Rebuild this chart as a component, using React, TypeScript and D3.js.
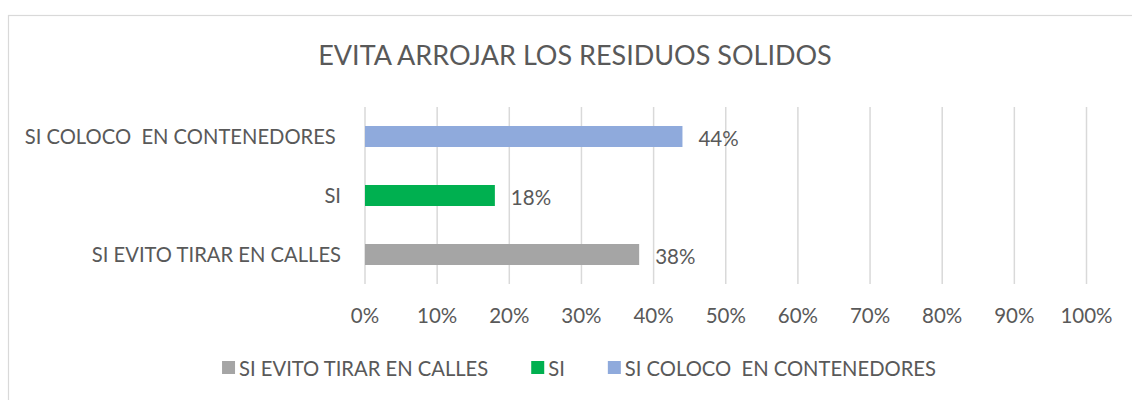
import { useEffect, useRef } from 'react';
import * as d3 from 'd3';

const title = 'EVITA ARROJAR LOS RESIDUOS SOLIDOS';
const categories = ['SI EVITO TIRAR EN CALLES', 'SI', 'SI COLOCO  EN CONTENEDORES '];
const values = [0.38, 0.18, 0.44];
const labels = ['38%', '18%', '44%'];
const colors = ['#a5a5a5', '#00b050', '#8faadc'];
const ticks = [0, 0.1, 0.2, 0.3, 0.4, 0.5, 0.6, 0.7, 0.8, 0.9, 1];

const W = 1132;
const H = 400;
const FONT = 'Lato, Carlito, "Open Sans", sans-serif';
const TEXT = '#595959';

export default function App() {
    const svgRef = useRef<SVGSVGElement>(null);

    useEffect(() => {
        if (!svgRef.current) return;
        const svg = d3.select(svgRef.current);
        svg.selectAll('*').remove();

        // chart frame
        svg.append('rect')
            .attr('x', 8.5)
            .attr('y', 15.5)
            .attr('width', W + 20)
            .attr('height', H + 20)
            .attr('fill', '#fff')
            .attr('stroke', '#d9d9d9')
            .attr('stroke-width', 1.2);

        const xScale = d3.scaleLinear().domain([0, 1]).range([365, 1086.5]);
        const yScale = d3.scaleBand()
            .domain([...categories].reverse())
            .range([107, 284])
            .paddingInner(0.644)
            .paddingOuter(0.322);

        // title
        svg.append('text')
            .attr('x', 575)
            .attr('y', 65)
            .attr('text-anchor', 'middle')
            .style('font-family', FONT)
            .style('font-size', '27px')
            .style('fill', TEXT)
            .text(title);

        // gridlines
        svg.append('g')
            .selectAll('line')
            .data(ticks)
            .join('line')
            .attr('x1', d => xScale(d))
            .attr('x2', d => xScale(d))
            .attr('y1', 107)
            .attr('y2', 284)
            .attr('stroke', '#d9d9d9')
            .attr('stroke-width', 1.5);

        // x tick labels
        svg.append('g')
            .selectAll('text')
            .data(ticks)
            .join('text')
            .attr('x', d => xScale(d))
            .attr('y', 322.5)
            .attr('text-anchor', 'middle')
            .style('font-family', FONT)
            .style('font-size', '20.5px')
            .style('fill', TEXT)
            .text(d => `${Math.round(d * 100)}%`);

        // category labels
        svg.append('g')
            .selectAll('text')
            .data(categories)
            .join('text')
            .attr('x', 341)
            .attr('y', d => (yScale(d) ?? 0) + yScale.bandwidth() / 2 + 7.3)
            .attr('text-anchor', 'end')
            .style('font-family', FONT)
            .style('font-size', '20.2px')
            .style('white-space', 'pre')
            .style('fill', TEXT)
            .text(d => d);

        // bars
        svg.append('g')
            .selectAll('rect')
            .data(categories)
            .join('rect')
            .attr('x', xScale(0))
            .attr('y', d => yScale(d) ?? 0)
            .attr('width', (d, i) => xScale(values[i]) - xScale(0))
            .attr('height', yScale.bandwidth())
            .attr('fill', (d, i) => colors[i]);

        // data labels
        svg.append('g')
            .selectAll('text')
            .data(categories)
            .join('text')
            .attr('x', (d, i) => xScale(values[i]) + 16)
            .attr('y', d => (yScale(d) ?? 0) + yScale.bandwidth() / 2 + 9)
            .style('font-family', FONT)
            .style('font-size', '20.5px')
            .style('fill', TEXT)
            .text((d, i) => labels[i]);

        // legend, centred under the chart
        const legend = svg.append('g');
        let cursor = 0;
        categories.forEach((cat, i) => {
            const item = legend.append('g').attr('transform', `translate(${cursor},0)`);
            item.append('rect')
                .attr('x', 0)
                .attr('y', 361)
                .attr('width', 13)
                .attr('height', 13)
                .attr('fill', colors[i]);
            const t = item.append('text')
                .attr('x', 17)
                .attr('y', 375.5)
                .style('font-family', FONT)
                .style('font-size', '20.2px')
                .style('white-space', 'pre')
                .style('fill', TEXT)
                .text(cat.trimEnd());
            const tw = (t.node() as SVGTextElement).getComputedTextLength();
            cursor += 17 + tw + 43;
        });
        const legendWidth = cursor - 43;
        legend.attr('transform', `translate(${579 - legendWidth / 2},0)`);
    }, []);

    return (
        <svg
            ref={svgRef}
            width={W}
            height={H}
            style={{ position: 'absolute', left: 0, top: 0, background: '#fff' }}
        />
    );
}
